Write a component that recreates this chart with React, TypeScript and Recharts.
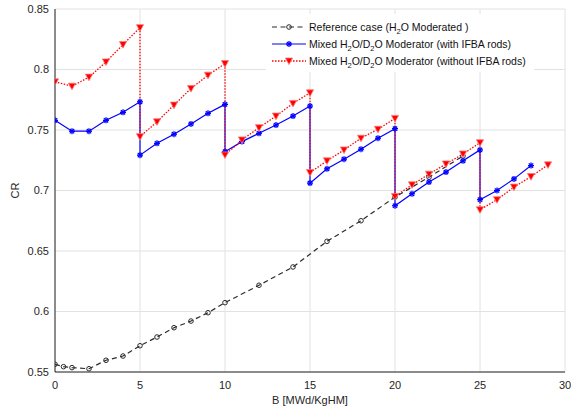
import React from 'react';
import { LineChart, Line, XAxis, YAxis, CartesianGrid, Legend } from 'recharts';

// ---- Data ----
const refBurnup = [0, 0.5, 1, 2, 3, 4, 5, 6, 7, 8, 9, 10, 12, 14, 16, 18, 20, 22, 24];
const refCR = [0.5564, 0.5544, 0.5536, 0.5527, 0.5597, 0.5632, 0.5717, 0.5789, 0.5866, 0.5921, 0.599, 0.6073, 0.6217, 0.6368, 0.658, 0.675, 0.6946, 0.711, 0.7285];

const ifbaBurnup = [0, 1, 2, 3, 4, 5, 5, 6, 7, 8, 9, 10, 10, 11, 12, 13, 14, 15, 15, 16, 17, 18, 19, 20, 20, 21, 22, 23, 24, 25, 25, 26, 27, 28];
const ifbaCR = [
  0.758, 0.749, 0.749, 0.758, 0.7646, 0.7733,
  0.7292, 0.739, 0.7465, 0.755, 0.7638, 0.7712,
  0.7321, 0.7404, 0.7473, 0.7541, 0.7615, 0.7698,
  0.7061, 0.7179, 0.7259, 0.7341, 0.7432, 0.7511,
  0.6874, 0.6973, 0.707, 0.7152, 0.7245, 0.7335,
  0.6924, 0.7, 0.7096, 0.7206,
];

const noIfbaBurnup = [0, 1, 2, 3, 4, 5, 5, 6, 7, 8, 9, 10, 10, 11, 12, 13, 14, 15, 15, 16, 17, 18, 19, 20, 20, 21, 22, 23, 24, 25, 25, 26, 27, 28, 29];
const noIfbaCR = [
  0.7898, 0.7862, 0.7937, 0.8063, 0.8206, 0.8346,
  0.7445, 0.7568, 0.7706, 0.7843, 0.7953, 0.8049,
  0.7294, 0.7418, 0.7519, 0.7615, 0.772, 0.7807,
  0.7148, 0.7245, 0.7335, 0.7432, 0.7506, 0.7596,
  0.6951, 0.7047, 0.7135, 0.722, 0.7302, 0.7395,
  0.6841, 0.6924, 0.7028, 0.7115, 0.7212,
];

const xTicks = [0, 5, 10, 15, 20, 25, 30];
const yTicks = [0.55, 0.6, 0.65, 0.7, 0.75, 0.8, 0.85];
const yTickLabels = ['0.55', '0.6', '0.65', '0.7', '0.75', '0.8', '0.85'];

const zip = (xs: number[], ys: number[]) => xs.map((b, i) => ({ b, cr: ys[i] }));
const refData = zip(refBurnup, refCR);
const ifbaData = zip(ifbaBurnup, ifbaCR);
const noIfbaData = zip(noIfbaBurnup, noIfbaCR);

// ---- Styles ----
const FONT = '"Liberation Sans", Arial, Helvetica, sans-serif';
const AX = '#262626';
const BLUE = '#0000ff';
const RED = '#ff0000';
const BLACK = '#2b2b2b';

const circleDot = (p: any) => {
  if (p.cx == null || p.cy == null) return <g key={`c${p.index}`} />;
  return <circle key={`c${p.index}`} cx={p.cx} cy={p.cy} r={2.3} fill="none" stroke={BLACK} strokeWidth={1} />;
};

const StarShape = ({ cx, cy }: { cx: number; cy: number }) => {
  const r = 3;
  const d = r * 0.72;
  return (
    <g stroke={BLUE} strokeWidth={1.3}>
      <line x1={cx - r} y1={cy} x2={cx + r} y2={cy} />
      <line x1={cx} y1={cy - r} x2={cx} y2={cy + r} />
      <line x1={cx - d} y1={cy - d} x2={cx + d} y2={cy + d} />
      <line x1={cx - d} y1={cy + d} x2={cx + d} y2={cy - d} />
    </g>
  );
};
const starDot = (p: any) => {
  if (p.cx == null || p.cy == null) return <g key={`s${p.index}`} />;
  return <g key={`s${p.index}`}><StarShape cx={p.cx} cy={p.cy} /></g>;
};

const TriShape = ({ cx, cy }: { cx: number; cy: number }) => (
  <polygon
    points={`${cx - 3.6},${cy - 3} ${cx + 3.6},${cy - 3} ${cx},${cy + 3.6}`}
    fill={RED}
    stroke="#ff7a7a"
    strokeWidth={0.8}
  />
);
const triDot = (p: any) => {
  if (p.cx == null || p.cy == null) return <g key={`t${p.index}`} />;
  return <g key={`t${p.index}`}><TriShape cx={p.cx} cy={p.cy} /></g>;
};

const Sub = ({ children }: { children: React.ReactNode }) => (
  <span style={{ fontSize: 7.5, position: 'relative', top: 3 }}>{children}</span>
);

const LegendRow = ({ kind, children }: { kind: 'ref' | 'ifba' | 'no'; children: React.ReactNode }) => (
  <div style={{ display: 'flex', alignItems: 'center', height: 17.3 }}>
    <svg width={43} height={12} style={{ display: 'block' }}>
      {kind === 'ref' && (
        <g>
          <line x1={6} y1={6} x2={40} y2={6} stroke={BLACK} strokeWidth={1.2} strokeDasharray="5 3.5" />
          <circle cx={23} cy={6} r={2.3} fill="none" stroke={BLACK} strokeWidth={1} />
        </g>
      )}
      {kind === 'ifba' && (
        <g>
          <line x1={6} y1={6} x2={40} y2={6} stroke={BLUE} strokeWidth={1.2} />
          <StarShape cx={23} cy={6} />
        </g>
      )}
      {kind === 'no' && (
        <g>
          <line x1={6} y1={6} x2={40} y2={6} stroke={RED} strokeWidth={1.3} strokeDasharray="1.5 1.5" />
          <TriShape cx={23} cy={6} />
        </g>
      )}
    </svg>
    <span style={{ marginLeft: 0, whiteSpace: 'nowrap' }}>{children}</span>
  </div>
);

const LegendContent = () => (
  <div style={{ fontFamily: FONT, fontSize: 10.5, color: '#111', padding: '4px 4px 2px 0' }}>
    <LegendRow kind="ref">Reference case (H<Sub>2</Sub>O Moderated )</LegendRow>
    <LegendRow kind="ifba">Mixed H<Sub>2</Sub>O/D<Sub>2</Sub>O Moderator (with IFBA rods)</LegendRow>
    <LegendRow kind="no">Mixed H<Sub>2</Sub>O/D<Sub>2</Sub>O Moderator (without IFBA rods)</LegendRow>
  </div>
);

const tickStyle = { fontSize: 11, fill: AX, fontFamily: FONT };

export default function App() {
  return (
    <div style={{ position: 'absolute', left: 0, top: 0, width: 571, height: 414, background: '#fff' }}>
      <LineChart width={571} height={414} margin={{ top: 9, right: 6, bottom: 6, left: 10 }}>
        <CartesianGrid stroke="#e2e2e2" strokeWidth={1} />
        <XAxis
          dataKey="b"
          type="number"
          domain={[0, 30]}
          ticks={xTicks}
          allowDataOverflow
          height={36}
          tickLine={false}
          tickSize={0}
          tickMargin={9}
          axisLine={{ stroke: AX }}
          tick={tickStyle}
          label={{ value: 'B [MWd/KgHM]', position: 'insideBottom', offset: 4, fontSize: 11, fill: AX, fontFamily: FONT }}
        />
        <YAxis
          type="number"
          domain={[0.55, 0.85]}
          ticks={yTicks}
          allowDataOverflow
          width={45}
          tickLine={false}
          tickSize={0}
          tickMargin={6}
          axisLine={{ stroke: AX }}
          tick={tickStyle}
          tickFormatter={(v: number) => yTickLabels[yTicks.indexOf(v)] ?? String(v)}
          label={(props: any) => {
            const vb = props.viewBox || { x: 10, y: 9, height: 363 };
            const x = vb.x + 5;
            const y = vb.y + vb.height / 2;
            return (
              <text x={x} y={y} transform={`rotate(-90 ${x} ${y})`} textAnchor="middle" dominantBaseline="central" fontSize={11} fill={AX} fontFamily={FONT}>
                CR
              </text>
            );
          }}
        />
        {/* inner tick marks and box */}
        <XAxis xAxisId="xin" orientation="bottom" type="number" domain={[0, 30]} ticks={xTicks} allowDataOverflow mirror tick={false} tickSize={5} axisLine={false} tickLine={{ stroke: AX }} height={0} />
        <XAxis xAxisId="xtop" orientation="top" type="number" domain={[0, 30]} ticks={xTicks} allowDataOverflow mirror tick={false} tickSize={5} axisLine={{ stroke: AX }} tickLine={{ stroke: AX }} height={0} />
        <YAxis yAxisId="yin" orientation="left" type="number" domain={[0.55, 0.85]} ticks={yTicks} allowDataOverflow mirror tick={false} tickSize={5} axisLine={false} tickLine={{ stroke: AX }} width={0} />
        <YAxis yAxisId="yright" orientation="right" type="number" domain={[0.55, 0.85]} ticks={yTicks} allowDataOverflow mirror tick={false} tickSize={5} axisLine={{ stroke: AX }} tickLine={{ stroke: AX }} width={0} />

        <Line
          data={refData}
          dataKey="cr"
          type="linear"
          stroke={BLACK}
          strokeWidth={1.2}
          strokeDasharray="5 3.5"
          dot={circleDot}
          activeDot={false}
          isAnimationActive={false}
          legendType="none"
        />
        <Line
          data={ifbaData}
          dataKey="cr"
          type="linear"
          stroke={BLUE}
          strokeWidth={1.2}
          dot={starDot}
          activeDot={false}
          isAnimationActive={false}
        />
        <Line
          data={noIfbaData}
          dataKey="cr"
          type="linear"
          stroke={RED}
          strokeWidth={1.3}
          strokeDasharray="1.5 1.5"
          dot={triDot}
          activeDot={false}
          isAnimationActive={false}
        />
        <Legend
          layout="vertical"
          align="center"
          verticalAlign="middle"
          content={<LegendContent />}
          wrapperStyle={{ left: 266, top: 14, width: 268, background: '#fff' }}
        />
      </LineChart>
    </div>
  );
}
